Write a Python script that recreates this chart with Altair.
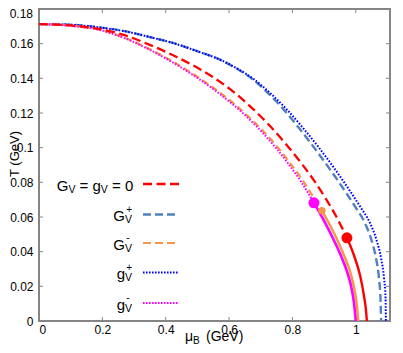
import altair as alt
import pandas as pd

# ---------------- data ----------------
red_dash_mu = [0, 0.1, 0.19, 0.27, 0.35, 0.43, 0.508, 0.556, 0.603, 0.664, 0.724, 0.778, 0.832, 0.868, 0.903, 0.938, 0.972]
red_dash_T = [0.1713, 0.1705, 0.1685, 0.1649, 0.1593, 0.1527, 0.1453, 0.1399, 0.1338, 0.1243, 0.1135, 0.1024, 0.0901, 0.0811, 0.0713, 0.0604, 0.0480]
red_solid_mu = [0.972, 0.993, 1.014, 1.025, 1.032, 1.035]
red_solid_T = [0.0480, 0.0385, 0.0259, 0.0155, 0.0064, 0.0]

gvp_mu = [0, 0.1, 0.19, 0.27, 0.35, 0.43, 0.508, 0.566, 0.622, 0.672, 0.722, 0.772, 0.822, 0.867, 0.913, 0.939, 0.966, 1.000, 1.029, 1.049, 1.064, 1.073, 1.078, 1.080]
gvp_T = [0.1713, 0.1709, 0.1694, 0.1672, 0.1638, 0.1600, 0.1551, 0.1512, 0.1458, 0.1398, 0.1316, 0.1221, 0.1110, 0.1004, 0.0889, 0.0822, 0.0749, 0.0654, 0.0565, 0.0470, 0.0360, 0.0250, 0.0130, 0.0]

smallp_mu = [0, 0.1, 0.19, 0.27, 0.35, 0.43, 0.508, 0.566, 0.624, 0.676, 0.729, 0.782, 0.835, 0.882, 0.929, 0.955, 0.982, 1.016, 1.045, 1.065, 1.080, 1.089, 1.094, 1.095]
smallp_T = [0.1713, 0.1709, 0.1694, 0.1672, 0.1638, 0.1600, 0.1551, 0.1512, 0.1458, 0.1398, 0.1316, 0.1221, 0.1110, 0.1004, 0.0889, 0.0822, 0.0749, 0.0654, 0.0565, 0.0470, 0.0360, 0.0250, 0.0130, 0.0]

gvm_dash_mu = [0, 0.1, 0.19, 0.27, 0.35, 0.42, 0.5, 0.567, 0.637, 0.672, 0.708, 0.75, 0.792, 0.83, 0.868, 0.893]
gvm_dash_T = [0.1713, 0.1704, 0.1681, 0.1634, 0.1568, 0.1499, 0.1409, 0.1323, 0.1220, 0.1161, 0.1095, 0.1010, 0.0913, 0.0818, 0.0710, 0.0637]
gvm_solid_mu = [0.893, 0.920, 0.945, 0.966, 0.983, 0.995, 1.003, 1.008]
gvm_solid_T = [0.0637, 0.0548, 0.0455, 0.0365, 0.0280, 0.0190, 0.0100, 0.0]

smallm_dot_mu = [0, 0.1, 0.19, 0.27, 0.35, 0.42, 0.5, 0.567, 0.637, 0.672, 0.708, 0.75, 0.792, 0.83, 0.868]
smallm_dot_T = [0.1713, 0.1703, 0.1680, 0.1632, 0.1564, 0.1494, 0.1402, 0.1315, 0.1210, 0.1150, 0.1082, 0.0994, 0.0895, 0.0796, 0.0682]
smallm_solid_mu = [0.868, 0.900, 0.935, 0.958, 0.975, 0.987, 0.995, 1.000]
smallm_solid_T = [0.0682, 0.0578, 0.0450, 0.0355, 0.0270, 0.0185, 0.0095, 0.0]

crit_mu = [0.893, 0.868, 0.972]
crit_T = [0.0637, 0.0682, 0.0480]

x_ticks = [0, 0.2, 0.4, 0.6, 0.8, 1.0]
y_ticks = [0, 0.02, 0.04, 0.06, 0.08, 0.1, 0.12, 0.14, 0.16, 0.18]

# ---------------- styling ----------------
FONT = "Liberation Sans"
GRAY = "#858585"
RED = "#ff0000"
STEEL = "#4f81bd"
ORANGE = "#f79646"
BLUE = "#0000ff"
MAGENTA = "#ff00ff"

W, H = 351, 312
XMAX = 1.108

x_scale = alt.Scale(domain=[0, XMAX], nice=False, zero=False)
y_scale = alt.Scale(domain=[0, 0.18], nice=False, zero=False)

x_axis = alt.Axis(values=x_ticks, format="~g", ticks=False, domain=False, grid=False,
                  labelFontSize=12, labelPadding=3, labelFont=FONT, labelColor="black", title=None)
y_axis = alt.Axis(values=y_ticks, format="~g", ticks=False, domain=False, grid=False,
                  labelExpr="datum.value > 0.17 ? '' : datum.label",
                  labelFontSize=12, labelPadding=6, labelFont=FONT, labelColor="black", title=None)

X = lambda f: alt.X(f, type="quantitative", scale=x_scale, axis=x_axis)
Y = lambda f: alt.Y(f, type="quantitative", scale=y_scale, axis=y_axis)

dummy = pd.DataFrame({"a": [0]})


def curve(mu, T, color, width, dash=None):
    df = pd.DataFrame({"mu": mu, "T": T, "i": list(range(len(mu)))})
    kw = dict(color=color, strokeWidth=width, interpolate="monotone")
    if dash is not None:
        kw["strokeDash"] = dash
    return alt.Chart(df).mark_line(**kw).encode(x=X("mu"), y=Y("T"), order="i:Q")


def point(i, color, size):
    df = pd.DataFrame({"mu": [crit_mu[i]], "T": [crit_T[i]]})
    return alt.Chart(df).mark_circle(color=color, size=size, opacity=1).encode(x=X("mu"), y=Y("T"))


def txt(s, x, y, size, align="left", angle=None, baseline="alphabetic"):
    kw = dict(text=s, align=align, baseline=baseline, fontSize=size, font=FONT, color="black")
    if angle is not None:
        kw["angle"] = angle
    return alt.Chart(dummy).mark_text(**kw).encode(x=alt.value(x), y=alt.value(y))


def sample(y, color, width, dash):
    return alt.Chart(dummy).mark_rule(color=color, strokeWidth=width, strokeDash=dash).encode(
        x=alt.value(104), x2=alt.value(140), y=alt.value(y))


layers = []

# inward ticks on all four sides
xt = pd.DataFrame({"v": x_ticks[1:]})
yt = pd.DataFrame({"v": y_ticks[1:-1]})
layers.append(alt.Chart(xt).mark_rule(color=GRAY, strokeWidth=1).encode(x=X("v"), y=alt.value(H), y2=alt.value(H - 4)))
layers.append(alt.Chart(xt).mark_rule(color=GRAY, strokeWidth=1).encode(x=X("v"), y=alt.value(0), y2=alt.value(4)))
layers.append(alt.Chart(yt).mark_rule(color=GRAY, strokeWidth=1).encode(y=Y("v"), x=alt.value(0), x2=alt.value(4)))
layers.append(alt.Chart(yt).mark_rule(color=GRAY, strokeWidth=1).encode(y=Y("v"), x=alt.value(W), x2=alt.value(W - 4)))

# curves
layers.append(curve(gvp_mu, gvp_T, STEEL, 2.4, [8, 4]))
layers.append(curve(smallp_mu, smallp_T, BLUE, 2.0, [1.6, 1.6]))
layers.append(curve(gvm_dash_mu, gvm_dash_T, ORANGE, 2.2, [7, 4]))
layers.append(curve(gvm_solid_mu, gvm_solid_T, ORANGE, 2.4))
layers.append(curve(smallm_dot_mu, smallm_dot_T, MAGENTA, 2.0, [1.6, 1.6]))
layers.append(curve(smallm_solid_mu, smallm_solid_T, MAGENTA, 2.6))
layers.append(curve(red_dash_mu, red_dash_T, RED, 2.3, [9, 4.5]))
layers.append(curve(red_solid_mu, red_solid_T, RED, 2.4))

# critical points
layers.append(point(0, ORANGE, 55))
layers.append(point(1, MAGENTA, 120))
layers.append(point(2, RED, 120))

# top y label (kept inside the page)
layers.append(txt("0.18", -6, 4.5, 12, align="right", baseline="middle"))

# axis titles
layers.append(txt("T (GeV)", -20, 145, 13, align="center", angle=270))
layers.append(txt("\u03bc", 146, 332, 14))
layers.append(txt("B", 154, 335, 10))
layers.append(txt("(GeV)", 167, 332, 14))

# legend
rows = [175, 205.5, 234, 263.5, 294]
r = rows[0]
layers.append(txt("G", 17.7, r + 6.8, 15))
layers.append(txt("V", 29.4, r + 8.5, 10.5))
layers.append(txt("=", 40.5, r + 6.8, 15))
layers.append(txt("g", 53.5, r + 6.8, 15))
layers.append(txt("V", 61.8, r + 8.5, 10.5))
layers.append(txt("=", 73.0, r + 6.8, 15))
layers.append(txt("0", 85.9, r + 6.8, 15))
layers.append(sample(r, RED, 2.3, [9, 4.5]))

entries = [("G", "+", STEEL, 2.4, [8, 4]),
           ("G", "-", ORANGE, 2.2, [8, 4]),
           ("g", "+", BLUE, 2.0, [1.6, 1.4]),
           ("g", "-", MAGENTA, 2.0, [1.6, 1.4])]
for (letter, sign, color, width, dash), r in zip(entries, rows[1:]):
    lx = 74.3 if letter == "G" else 77.7
    layers.append(txt(letter, lx, r + 6.8, 15))
    layers.append(txt("V", 86, r + 8.5, 10.5))
    layers.append(txt(sign, 87.2, r - 2, 10))
    layers.append(sample(r, color, width, dash))

chart = alt.layer(*layers).properties(
    width=W, height=H,
    padding={"left": 31, "top": 1, "right": 5, "bottom": 24},
    autosize=alt.AutoSizeParams(type="none"),
).configure_view(stroke=GRAY, strokeWidth=2)

chart.save("out.html", embed_options={"renderer": "svg", "actions": False})
